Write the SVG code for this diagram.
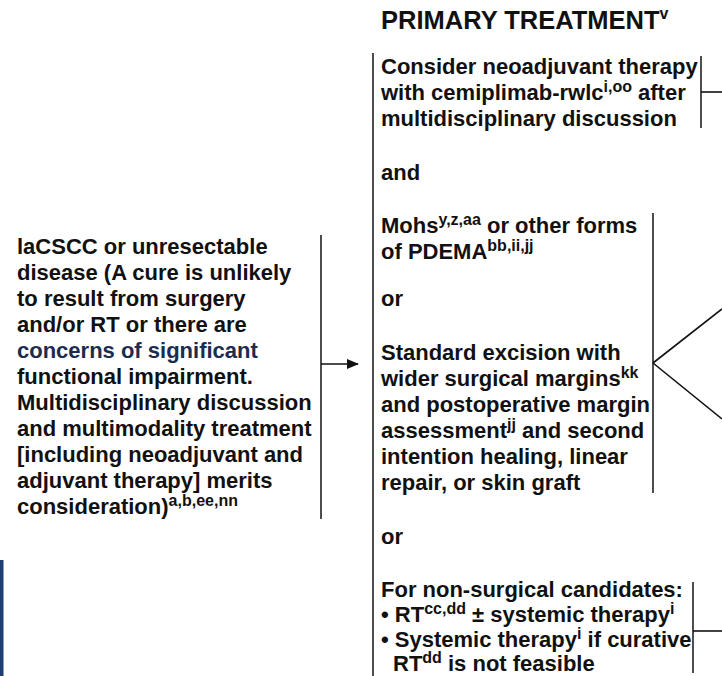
<svg xmlns="http://www.w3.org/2000/svg" width="722" height="676" viewBox="0 0 722 676">
<style>
text{font-family:"Liberation Sans",Arial,Helvetica,sans-serif;font-weight:bold;fill:#111;}
.b{font-size:22px;}
.h{font-size:25.5px;}
.sup{font-size:16px;}
.br{stroke:#3a3a3a;stroke-width:1.8;fill:none;}
.cn{stroke:#111;stroke-width:1.6;fill:none;}
</style>
<defs>
<marker id="ah" viewBox="0 0 12 10" refX="11" refY="5" markerWidth="12" markerHeight="10" markerUnits="userSpaceOnUse" orient="auto"><path d="M0,0 L12,5 L0,10 z" fill="#111"/></marker>
</defs>
<rect x="0" y="560" width="3.5" height="116" fill="#1e3f74"/>
<g id="title">
<text class="h" x="381" y="29">PRIMARY TREATMENT<tspan class="sup" dy="-10">v</tspan></text>
</g>
<g id="condition">
<text class="b" x="17">
<tspan x="17" y="254">laCSCC or unresectable</tspan>
<tspan x="17" y="280">disease (A cure is unlikely</tspan>
<tspan x="17" y="306">to result from surgery</tspan>
<tspan x="17" y="332">and/or RT or there are</tspan>
<tspan x="17" y="358" fill="#1b2d4e">concerns of significant</tspan>
<tspan x="17" y="384">functional impairment.</tspan>
<tspan x="17" y="410">Multidisciplinary discussion</tspan>
<tspan x="17" y="436">and multimodality treatment</tspan>
<tspan x="17" y="462">[including neoadjuvant and</tspan>
<tspan x="17" y="488">adjuvant therapy] merits</tspan>
<tspan x="17" y="514">consideration)</tspan><tspan class="sup" dy="-8">a,b,ee,nn</tspan>
</text>
<line class="br" x1="321" y1="235" x2="321" y2="519"/>
</g>
<g id="primary-treatment">
<line class="br" x1="373" y1="53" x2="373" y2="676"/>
<g id="neoadjuvant">
<text class="b" x="381" y="74">Consider neoadjuvant therapy</text>
<text class="b" x="381" y="100">with cemiplimab-rwlc<tspan class="sup" dy="-8">i,oo</tspan><tspan dy="8"> after</tspan></text>
<text class="b" x="381" y="126">multidisciplinary discussion</text>
<line class="br" x1="701" y1="56" x2="701" y2="128"/>
</g>
<g id="and">
<text class="b" x="381" y="180">and</text>
</g>
<g id="surgery">
<text class="b" x="381" y="233">Mohs<tspan class="sup" dy="-8">y,z,aa</tspan><tspan dy="8"> or other forms</tspan></text>
<text class="b" x="381" y="259">of PDEMA<tspan class="sup" dy="-8">bb,ii,jj</tspan></text>
<text class="b" x="381" y="306">or</text>
<text class="b" x="381" y="360">Standard excision with</text>
<text class="b" x="381" y="386">wider surgical margins<tspan class="sup" dy="-8">kk</tspan></text>
<text class="b" x="381" y="412">and postoperative margin</text>
<text class="b" x="381" y="438">assessment<tspan class="sup" dy="-8">jj</tspan><tspan dy="8"> and second</tspan></text>
<text class="b" x="381" y="464">intention healing, linear</text>
<text class="b" x="381" y="490">repair, or skin graft</text>
<line class="br" x1="653" y1="213" x2="653" y2="493"/>
</g>
<g id="or">
<text class="b" x="381" y="544">or</text>
</g>
<g id="non-surgical">
<text class="b" x="381" y="597">For non-surgical candidates:</text>
<text class="b" x="381" y="622">• RT<tspan class="sup" dy="-8">cc,dd</tspan><tspan dy="8"> ± systemic therapy</tspan><tspan class="sup" dy="-8">i</tspan></text>
<text class="b" x="381" y="647">• Systemic therapy<tspan class="sup" dy="-8">i</tspan><tspan dy="8"> if curative</tspan></text>
<text class="b" x="393" y="671">RT<tspan class="sup" dy="-8">dd</tspan><tspan dy="8"> is not feasible</tspan></text>
<line class="br" x1="693" y1="582" x2="693" y2="673"/>
</g>
</g>
<g id="connectors">
<line class="cn" x1="321" y1="364" x2="358" y2="364" marker-end="url(#ah)"/>
<line class="cn" x1="701" y1="92" x2="722" y2="92"/>
<line class="cn" x1="653" y1="363" x2="722" y2="309"/>
<line class="cn" x1="653" y1="363" x2="722" y2="419"/>
<line class="cn" x1="693" y1="631" x2="722" y2="631"/>
</g>
</svg>
